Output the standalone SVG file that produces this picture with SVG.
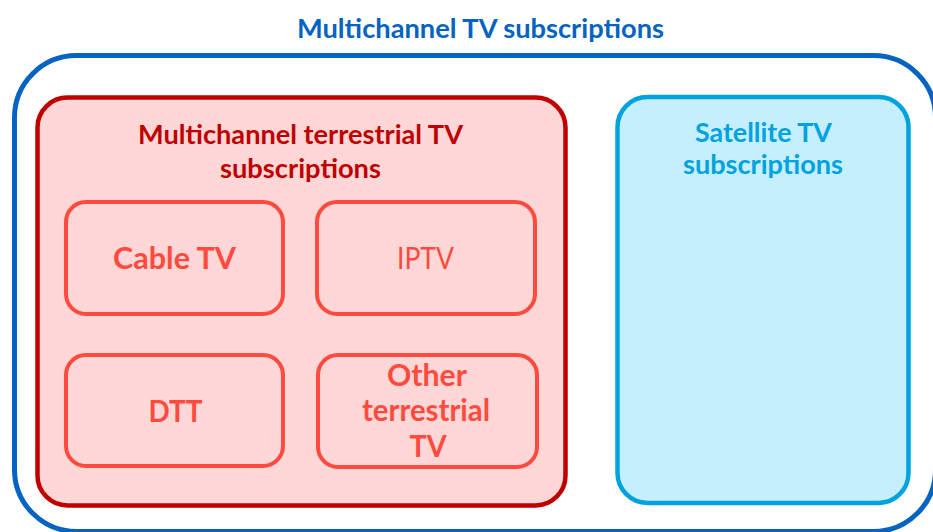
<svg xmlns="http://www.w3.org/2000/svg" width="933" height="532" viewBox="0 0 933 532">
<style>
text{font-family:Lato,"Open Sans","Liberation Sans",sans-serif;text-anchor:middle}
.title{font-size:26.5px;font-weight:bold;fill:#0563C1}
.red{font-size:26.5px;font-weight:bold;fill:#C00000}
.sat{font-size:26.5px;font-weight:bold;fill:#00A2DF}
.sub{font-size:30px;font-weight:bold;fill:#FF4A3D}
.subn{font-size:30px;font-weight:normal;fill:#FF4A3D}
.leaf{fill:#FFD7D7;stroke:#FF4A3D;stroke-width:4}
</style>
<rect width="933" height="532" fill="#FFFFFF"/>
<g id="outer">
<rect x="14.5" y="55.5" width="921" height="476" rx="62" fill="none" stroke="#0563C1" stroke-width="5"/>
<text class="title" x="480.5" y="38" textLength="367" lengthAdjust="spacingAndGlyphs">Multichannel TV subscriptions</text>
</g>
<g id="terrestrial">
<rect x="37.5" y="97.5" width="528" height="408" rx="30" fill="#FFD7D7" stroke="#C00000" stroke-width="4.5"/>
<text class="red" x="300.5" y="144" textLength="325" lengthAdjust="spacingAndGlyphs">Multichannel terrestrial TV</text>
<text class="red" x="300.5" y="178" textLength="161" lengthAdjust="spacingAndGlyphs">subscriptions</text>
</g>
<g id="satellite">
<rect x="617.5" y="97" width="291" height="406" rx="30" fill="#C5EFFD" stroke="#00A2DF" stroke-width="4.5"/>
<text class="sat" x="763.5" y="142" textLength="137" lengthAdjust="spacingAndGlyphs">Satellite TV</text>
<text class="sat" x="763" y="174" textLength="160" lengthAdjust="spacingAndGlyphs">subscriptions</text>
</g>
<g id="cable">
<rect class="leaf" x="66" y="202" width="217" height="112" rx="20"/>
<text class="sub" x="174.5" y="269" textLength="123" lengthAdjust="spacingAndGlyphs">Cable TV</text>
</g>
<g id="iptv">
<rect class="leaf" x="317" y="202" width="218" height="112" rx="20"/>
<text class="subn" x="425.5" y="269" textLength="57" lengthAdjust="spacingAndGlyphs">IPTV</text>
</g>
<g id="dtt">
<rect class="leaf" x="66" y="355" width="217" height="111" rx="20"/>
<text class="sub" x="175.5" y="421.5" textLength="54" lengthAdjust="spacingAndGlyphs">DTT</text>
</g>
<g id="other">
<rect class="leaf" x="318" y="355" width="219" height="112" rx="20"/>
<text class="sub" x="427" y="386" textLength="80" lengthAdjust="spacingAndGlyphs">Other</text>
<text class="sub" x="426" y="421" textLength="128" lengthAdjust="spacingAndGlyphs">terrestrial</text>
<text class="sub" x="428" y="457" textLength="37" lengthAdjust="spacingAndGlyphs">TV</text>
</g>
<g id="connectors"/>
</svg>
